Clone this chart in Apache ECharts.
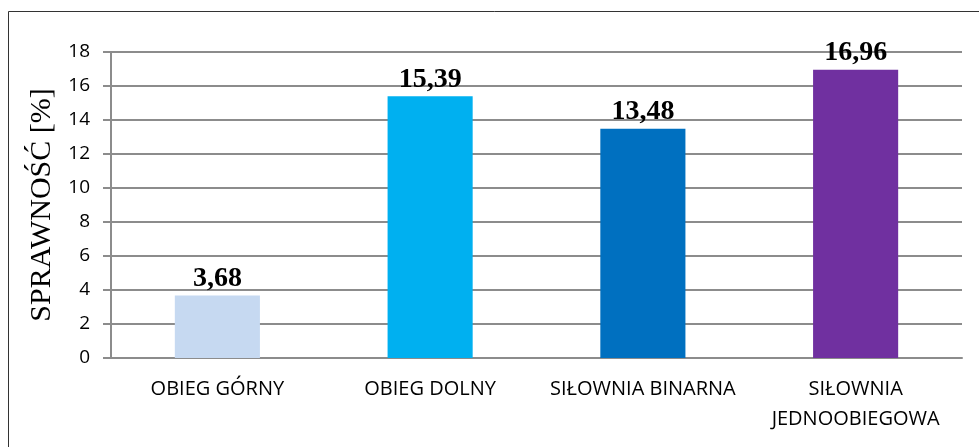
<!DOCTYPE html>
<html>
<head>
<meta charset="utf-8">
<style>
  html, body { margin: 0; padding: 0; background: #fff; }
  #chart { width: 979px; height: 447px; }
</style>
<script src="https://cdn.jsdelivr.net/npm/echarts@6/dist/echarts.min.js"></script>
</head>
<body>
<div id="chart"></div>
<script>
// dane wykresu
var categories = ["OBIEG GÓRNY", "OBIEG DOLNY", "SIŁOWNIA BINARNA", "SIŁOWNIA\nJEDNOOBIEGOWA"];
var values = [3.68, 15.39, 13.48, 16.96];
var barColors = ["#C6D9F1", "#00B0F0", "#0070C0", "#7030A0"];
var yTicks = [0, 2, 4, 6, 8, 10, 12, 14, 16, 18];

var myChart = echarts.init(document.getElementById("chart"));

var gridColor = "#8c8c8c";

myChart.setOption({
  animation: false,
  // ramka wokół wykresu
  graphic: [{
    type: "rect",
    shape: { x: 8.5, y: 11.5, width: 1200, height: 1200 },
    style: { fill: "none", stroke: "#333", lineWidth: 1 }
  }],
  grid: { left: 111, right: 17, top: 52, bottom: 89 },
  xAxis: {
    type: "category",
    data: categories,
    axisLine: { lineStyle: { color: gridColor, width: 2 } },
    axisTick: { show: false },
    axisLabel: {
      color: "#000",
      fontFamily: "Open Sans",
      fontSize: 20,
      lineHeight: 30,
      margin: 16,
      interval: 0
    }
  },
  yAxis: {
    type: "value",
    min: yTicks[0],
    max: yTicks[yTicks.length - 1],
    interval: 2,
    name: "SPRAWNOŚĆ [%]",
    nameLocation: "middle",
    nameGap: 53,
    nameTextStyle: { fontFamily: "Liberation Serif", fontSize: 30, color: "#000" },
    axisLine: { show: true, lineStyle: { color: gridColor, width: 2 } },
    axisTick: { show: true, length: 8, lineStyle: { color: gridColor, width: 2 } },
    splitLine: { lineStyle: { color: gridColor, width: 2 } },
    axisLabel: {
      color: "#000",
      fontFamily: "Open Sans",
      fontSize: 19,
      margin: 21,
      formatter: function (v) { return String(v); }
    }
  },
  series: [{
    type: "bar",
    barWidth: "40%",
    data: values.map(function (v, i) {
      return { value: v, itemStyle: { color: barColors[i] } };
    }),
    label: {
      show: true,
      position: "top",
      distance: 3,
      color: "#000",
      fontFamily: "Liberation Serif",
      fontWeight: "bold",
      fontSize: 28,
      formatter: function (p) { return p.value.toFixed(2).replace(".", ","); }
    }
  }]
});

window.addEventListener("resize", function () {
  myChart.resize();
});
</script>
</body>
</html>
